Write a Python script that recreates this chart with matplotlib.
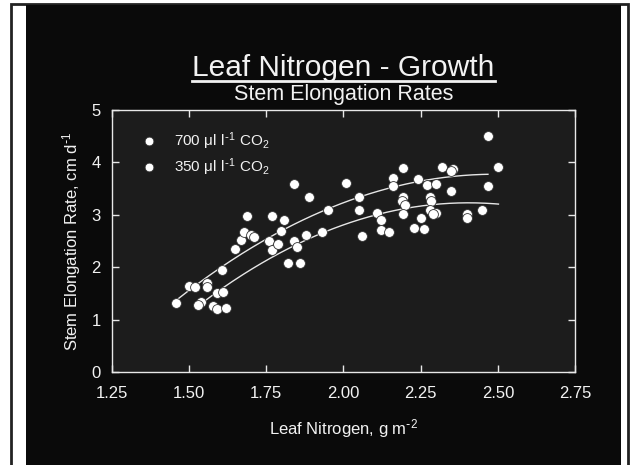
import numpy as np
import matplotlib
matplotlib.use("Agg")
import matplotlib.pyplot as plt
from matplotlib.patches import Rectangle

plt.rcParams['font.family'] = ['Liberation Sans', 'DejaVu Sans']

# Leaf nitrogen (g m-2) and stem elongation rate (cm d-1), both CO2 treatments
leaf_n = [1.458, 1.498, 1.518, 1.558, 1.558, 1.589, 1.608, 1.538, 1.529, 1.578,
          1.589, 1.618, 1.607, 1.648, 1.669, 1.679, 1.699, 1.711, 1.688, 1.769,
          1.758, 1.769, 1.789, 1.798, 1.808, 1.839, 1.849, 1.819, 1.859, 1.839,
          1.889, 1.879, 1.929, 1.950, 2.009, 2.049, 2.049, 2.059, 2.109, 2.120,
          2.120, 2.148, 2.159, 2.159, 2.194, 2.240, 2.270, 2.300, 2.320, 2.354,
          2.349, 2.349, 2.194, 2.190, 2.200, 2.279, 2.283, 2.279, 2.300, 2.290,
          2.194, 2.250, 2.229, 2.260, 2.400, 2.400, 2.450, 2.468, 2.468, 2.500]
elongation = [1.311, 1.637, 1.613, 1.704, 1.613, 1.504, 1.531, 1.336, 1.275, 1.256,
              1.193, 1.227, 1.947, 2.344, 2.527, 2.668, 2.614, 2.567, 2.977, 2.977,
              2.506, 2.319, 2.447, 2.697, 2.897, 2.506, 2.382, 2.071, 2.071, 3.594,
              3.344, 2.620, 2.672, 3.092, 3.613, 3.344, 3.088, 2.592, 3.025, 2.910,
              2.706, 2.676, 3.697, 3.559, 3.899, 3.677, 3.574, 3.588, 3.903, 3.874,
              3.836, 3.454, 3.345, 3.263, 3.181, 3.345, 3.258, 3.092, 3.034, 3.010,
              3.010, 2.945, 2.754, 2.729, 3.010, 2.939, 3.092, 3.550, 4.513, 3.903]

# Regression curves (700 and 350 ul/l CO2)
fit700_n = [1.458, 1.606, 1.762, 1.949, 2.049, 2.150, 2.240, 2.468]
fit700_r = [1.399, 1.956, 2.595, 3.092, 3.345, 3.525, 3.645, 3.760]
fit350_n = [1.541, 1.762, 1.879, 2.150, 2.279, 2.502]
fit350_r = [1.311, 2.137, 2.582, 3.040, 3.168, 3.219]

legend_labels = [r"700 $\mathregular{\mu l\ l^{\text{-}1}\ CO_2}$",
                 r"350 $\mathregular{\mu l\ l^{\text{-}1}\ CO_2}$"]
x_ticks = [1.25, 1.50, 1.75, 2.00, 2.25, 2.50, 2.75]
y_ticks = [0, 1, 2, 3, 4, 5]

W, H = 632, 465
fig = plt.figure(figsize=(W / 100, H / 100), dpi=100, facecolor='white')


def px_rect(x0, y0, x1, y1, **kw):
    fig.patches.append(Rectangle((x0 / W, 1 - y1 / H), (x1 - x0) / W, (y1 - y0) / H,
                                 transform=fig.transFigure, zorder=-5, **kw))


# frame and slide background
px_rect(11, 4, 627.5, 470, facecolor='white', edgecolor='#222222', lw=2)
px_rect(26, 4.5, 621, 470, facecolor='#0a0a0a', edgecolor='none')

TXT = '#f2f2f2'
AX_L, AX_R = 112, 575
ax = fig.add_axes([AX_L / W, 1 - 372 / H, (AX_R - AX_L) / W, 262 / H])
ax.set_facecolor('#1c1c1c')

for s in ax.spines.values():
    s.set_color('#e8e8e8')
    s.set_linewidth(1.0)

ax.scatter(leaf_n, elongation, s=50, facecolor='white', edgecolor='#333333',
           linewidths=0.6, zorder=3)

for xs, ys in ((fit700_n, fit700_r), (fit350_n, fit350_r)):
    c = np.polyfit(xs, ys, 2)
    xx = np.linspace(min(xs), max(xs), 200)
    ax.plot(xx, np.polyval(c, xx), color='#e6e6e6', lw=1.0, zorder=2)

ax.set_xlim(1.25, 2.75)
ax.set_ylim(0, 5)
ax.set_xticks(x_ticks)
ax.set_xticklabels([f"{v:.2f}" for v in x_ticks])
ax.set_yticks(y_ticks)
ax.set_yticklabels([str(v) for v in y_ticks])
ax.tick_params(direction='in', length=5, width=1, color='#e8e8e8',
               labelcolor=TXT, labelsize=12, top=True, right=True)
ax.tick_params(axis='x', pad=10)
ax.tick_params(axis='y', pad=8)

ax.set_xlabel(r"Leaf Nitrogen, g m$\mathregular{^{\text{-}2}}$", color=TXT, fontsize=12, labelpad=12)
ax.set_ylabel(r"Stem Elongation Rate, cm d$\mathregular{^{\text{-}1}}$", color=TXT, fontsize=12, labelpad=6)

# legend entries
for i, lab in enumerate(legend_labels):
    yy = 4.41 - i * 0.5
    ax.scatter([1.37], [yy], s=40, facecolor='white', edgecolor='#333333',
               linewidths=0.6, zorder=3)
    ax.text(1.451, yy, lab, color=TXT, fontsize=11, va='center', ha='left')

# titles, centred over the plot
cx = (AX_L + AX_R) / 2 / W
t = fig.text(cx, 1 - 76 / H, "Leaf Nitrogen - Growth", color=TXT, fontsize=21.5,
             ha='center', va='baseline')
fig.canvas.draw()
bb = t.get_window_extent()
fig.add_artist(plt.Line2D([bb.x0 / W, bb.x1 / W], [1 - 81.5 / H, 1 - 81.5 / H],
                          transform=fig.transFigure, color=TXT, lw=2))
fig.text(cx, 1 - 100 / H, "Stem Elongation Rates", color=TXT, fontsize=15.5,
         ha='center', va='baseline')

fig.savefig("out.png", dpi=100, facecolor=fig.get_facecolor())
